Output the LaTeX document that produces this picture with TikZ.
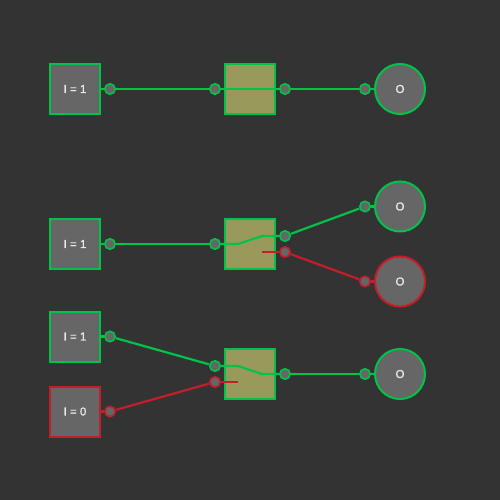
\documentclass[tikz,border=0pt]{standalone}
\usepackage{fontspec}
\newfontfamily\labelfont[FakeBold=1]{Liberation Sans}
\definecolor{bggrey}{HTML}{333333}
\definecolor{boxgrey}{HTML}{666666}
\definecolor{gatefill}{HTML}{99995C}
\definecolor{ongreen}{HTML}{00C44A}
\definecolor{offred}{HTML}{C41E2A}
\tikzset{
	inbox/.style={draw,line width=2pt,fill=boxgrey,minimum size=50pt,inner sep=0pt,text=white!92!black,font=\labelfont\fontsize{11.5}{14}\selectfont},
	outcirc/.style={inbox,circle},
	gatebox/.style={draw=ongreen,line width=2pt,fill=gatefill,minimum size=50pt,inner sep=0pt},
	port/.style={circle,draw,line width=1.6pt,fill=boxgrey,minimum size=10.4pt,inner sep=0pt},
	onwire/.style={draw=ongreen,line width=2.2pt},
	offwire/.style={draw=offred,line width=2.2pt}
}
\begin{document}
\begin{tikzpicture}[x=1pt,y=-1pt]
	\fill[bggrey] (0,0) rectangle (500,500);
	\useasboundingbox (0,0) rectangle (500,500);
	% top row
	\node[inbox,draw=ongreen] (ia) at (75,89) {I = 1};
	\node[gatebox] (ga) at (250,89) {};
	\node[outcirc,draw=ongreen] (oa) at (400,89) {O};
	\node[port,draw=ongreen] (pa) at (110,89) {};
	\node[port,draw=ongreen] (qa) at (215,89) {};
	\node[port,draw=ongreen] (ra) at (285,89) {};
	\node[port,draw=ongreen] (sa) at (365,89) {};
	\draw[onwire] (ia) -- (pa);
	\draw[onwire] (pa) -- (qa);
	\draw[onwire] (qa) -- (ra);
	\draw[onwire] (ra) -- (sa);
	\draw[onwire] (sa) -- (oa);
	% middle row
	\node[inbox,draw=ongreen] (ib) at (75,244) {I = 1};
	\node[gatebox] (gb) at (250,244) {};
	\node[outcirc,draw=ongreen] (ob) at (400,206.5) {O};
	\node[outcirc,draw=offred] (oc) at (400,281.5) {O};
	\node[port,draw=ongreen] (pb) at (110,244) {};
	\node[port,draw=ongreen] (qb) at (215,244) {};
	\node[port,draw=ongreen] (rb) at (285,236) {};
	\node[port,draw=offred] (rc) at (285,252) {};
	\node[port,draw=ongreen] (sb) at (365,206.5) {};
	\node[port,draw=offred] (sc) at (365,281.5) {};
	\coordinate (kb) at (238,244);
	\coordinate (lb) at (262,236);
	\coordinate (lc) at (262,252);
	\draw[onwire] (ib) -- (pb);
	\draw[onwire] (pb) -- (qb);
	\draw[onwire] (qb) -- (kb) -- (lb) -- (rb);
	\draw[offwire] (lc) -- (rc);
	\draw[onwire] (rb) -- (sb);
	\draw[offwire] (rc) -- (sc);
	\draw[onwire] (sb) -- (ob);
	\draw[offwire] (sc) -- (oc);
	% bottom row
	\node[inbox,draw=ongreen] (id) at (75,336.5) {I = 1};
	\node[inbox,draw=offred] (ie) at (75,411.5) {I = 0};
	\node[gatebox] (gd) at (250,374) {};
	\node[outcirc,draw=ongreen] (od) at (400,374) {O};
	\node[port,draw=ongreen] (pd) at (110,336.5) {};
	\node[port,draw=offred] (pe) at (110,411.5) {};
	\node[port,draw=ongreen] (qd) at (215,366) {};
	\node[port,draw=offred] (qe) at (215,382) {};
	\node[port,draw=ongreen] (rd) at (285,374) {};
	\node[port,draw=ongreen] (sd) at (365,374) {};
	\coordinate (kd) at (238,366);
	\coordinate (ke) at (238,382);
	\coordinate (ld) at (262,374);
	\draw[onwire] (id) -- (pd);
	\draw[offwire] (ie) -- (pe);
	\draw[onwire] (pd) -- (qd);
	\draw[offwire] (pe) -- (qe);
	\draw[onwire] (qd) -- (kd) -- (ld) -- (rd);
	\draw[offwire] (qe) -- (ke);
	\draw[onwire] (rd) -- (sd);
	\draw[onwire] (sd) -- (od);
\end{tikzpicture}
\end{document}
